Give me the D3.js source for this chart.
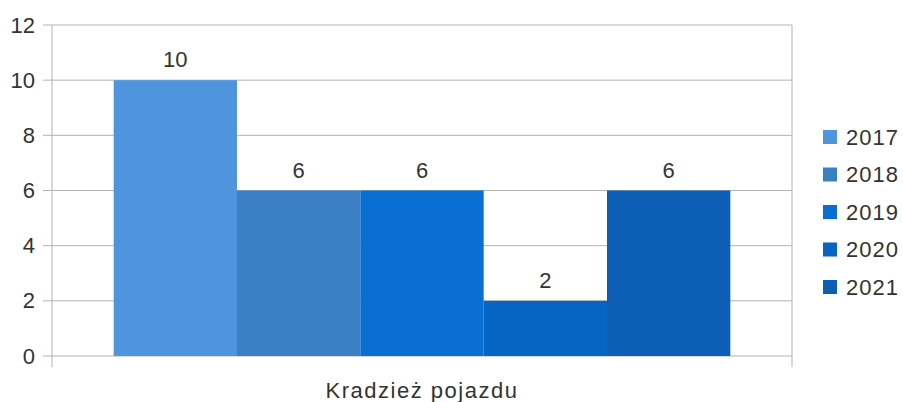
<!DOCTYPE html>
<html>
<head>
<meta charset="utf-8">
<script src="https://cdn.jsdelivr.net/npm/d3@7"></script>
<style>
  body { margin: 0; background: #fff; }
  text { font-family: "Liberation Sans", Arial, sans-serif; fill: #333; }
</style>
</head>
<body>
<div id="chart"></div>
<script>
// data
const category = "Kradzież pojazdu";
const years = ["2017", "2018", "2019", "2020", "2021"];
const values = [10, 6, 6, 2, 6];
const colors = ["#4f95dd", "#3b7fc5", "#0a6fd2", "#0664c3", "#0d5fb6"];
const yTicks = [0, 2, 4, 6, 8, 10, 12];

const W = 903, H = 402;
const margin = {top: 25, right: 111, bottom: 46, left: 52},
      width = W - margin.left - margin.right,
      height = H - margin.top - margin.bottom;

const svg = d3.select("#chart")
    .append("svg")
    .attr("width", W)
    .attr("height", H)
    .append("g")
    .attr("transform", `translate(${margin.left}, ${margin.top})`);

// scales
const y = d3.scaleLinear().domain([0, 12]).range([height, 0]);
const x0 = d3.scaleBand().domain([category]).range([0, width]).paddingInner(0).paddingOuter(0.1);
const x1 = d3.scaleBand().domain(years).range([x0(category), x0(category) + x0.bandwidth()]);

// gridlines
svg.append("g")
    .selectAll("line")
    .data(yTicks)
    .join("line")
    .attr("x1", -9)
    .attr("x2", width)
    .attr("y1", d => y(d))
    .attr("y2", d => y(d))
    .attr("stroke", "#b3b3b3")
    .attr("stroke-width", 1);

// vertical boundaries
svg.append("g")
    .selectAll("line")
    .data([0, width])
    .join("line")
    .attr("x1", d => d)
    .attr("x2", d => d)
    .attr("y1", 0)
    .attr("y2", height + 11)
    .attr("stroke", "#b3b3b3");

// y axis labels
svg.append("g")
    .call(d3.axisLeft(y).tickValues(yTicks).tickSize(0).tickPadding(17))
    .call(g => g.select(".domain").remove())
    .call(g => g.selectAll("text")
        .attr("font-size", "22px")
        .attr("font-family", "Liberation Sans, Arial, sans-serif")
        .attr("fill", "#333"));

// bars
svg.append("g")
    .selectAll("rect")
    .data(values)
    .join("rect")
    .attr("x", (d, i) => x1(years[i]))
    .attr("y", d => y(d))
    .attr("width", x1.bandwidth())
    .attr("height", d => height - y(d))
    .attr("fill", (d, i) => colors[i]);

// value labels
svg.append("g")
    .selectAll("text")
    .data(values)
    .join("text")
    .attr("x", (d, i) => x1(years[i]) + x1.bandwidth() / 2)
    .attr("y", d => y(d) - 13)
    .attr("text-anchor", "middle")
    .attr("font-size", "22px")
    .text(d => d);

// category label
svg.append("text")
    .attr("x", x0(category) + x0.bandwidth() / 2)
    .attr("y", height + 42)
    .attr("text-anchor", "middle")
    .attr("font-size", "22px")
    .attr("letter-spacing", "1.5px")
    .text(category);

// legend
const legend = svg.append("g")
    .attr("transform", `translate(${width + 31}, 0)`);
const ly = d3.scalePoint().domain(years).range([112, 262]);
legend.selectAll("rect")
    .data(years)
    .join("rect")
    .attr("x", 0)
    .attr("y", d => ly(d) - 7)
    .attr("width", 14)
    .attr("height", 14)
    .attr("fill", (d, i) => colors[i]);
legend.selectAll("text")
    .data(years)
    .join("text")
    .attr("x", 23)
    .attr("y", d => ly(d))
    .attr("dy", "0.36em")
    .attr("font-size", "22px")
    .attr("letter-spacing", "1px")
    .text(d => d);
</script>
</body>
</html>
